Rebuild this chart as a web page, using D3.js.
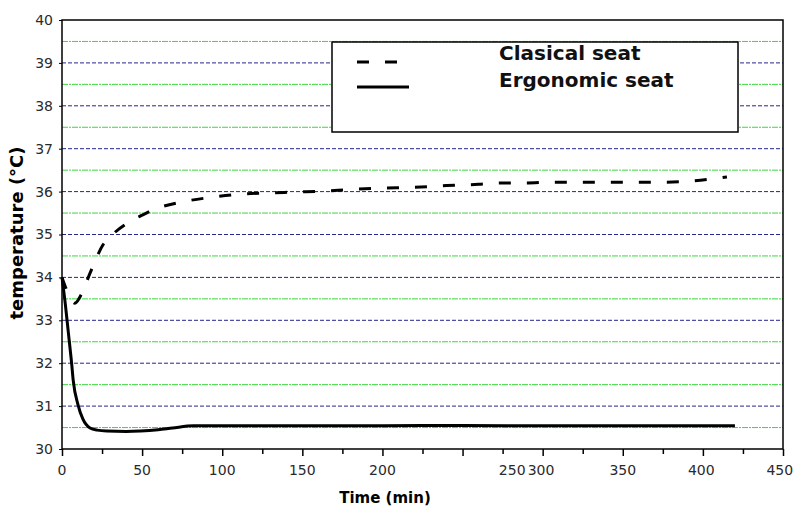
<!DOCTYPE html>
<html>
<head>
<meta charset="utf-8">
<script src="https://cdn.jsdelivr.net/npm/d3@7"></script>
<style>
  body { margin: 0; background: #fff; }
  svg { display: block; font-family: "DejaVu Sans", Verdana, sans-serif; }
</style>
</head>
<body>
<div id="chart"></div>
<script>
// time (min) and temperature (°C)
const classicTime = [0, 3, 8, 12, 17.5, 25.6, 33, 41, 50, 58, 75, 94, 111, 129, 147, 164, 180, 200, 220, 240, 260, 273, 289, 306, 325, 342, 359, 375, 394, 415];
const classicTemp = [34.0, 33.7, 33.4, 33.6, 34.1, 34.76, 35.05, 35.27, 35.45, 35.59, 35.76, 35.87, 35.94, 35.97, 35.99, 36.01, 36.05, 36.08, 36.1, 36.14, 36.17, 36.2, 36.2, 36.22, 36.22, 36.22, 36.22, 36.22, 36.25, 36.34];

const ergoTime = [0, 2, 4, 6, 7, 10, 13, 17.5, 22, 28, 40, 49, 60, 69, 82, 120, 200, 250, 300, 360, 420];
const ergoTemp = [34.0, 33.4, 32.7, 32.0, 31.6, 31.03, 30.7, 30.49, 30.44, 30.42, 30.41, 30.42, 30.45, 30.49, 30.54, 30.54, 30.54, 30.55, 30.54, 30.54, 30.54];

const seriesNames = ["Clasical seat", "Ergonomic seat"];

const yTicks = [30, 31, 32, 33, 34, 35, 36, 37, 38, 39, 40];
const yHalfTicks = [30.5, 31.5, 32.5, 33.5, 34.5, 35.5, 36.5, 37.5, 38.5, 39.5];
const xMinorTicks = d3.range(0, 451, 25);
// the original figure has its "250" label shifted next to "300"
const xLabelText = ["0", "50", "100", "150", "200", "250", "300", "350", "400", "450"];
const xLabelAt = [0, 50, 100, 150, 200, 281, 299, 350, 399, 448];

const margin = ({top: 20, right: 15, bottom: 58, left: 62});
const width = 798;
const height = 507;

const x = d3.scaleLinear().domain([0, 450]).range([margin.left, width - margin.right]);
const y = d3.scaleLinear().domain([30, 40]).range([height - margin.bottom, margin.top]);

const svg = d3.select("#chart").append("svg")
	.attr("width", width)
	.attr("height", height);

// grid lines
svg.append("g").selectAll("line")
	.data(yHalfTicks)
	.join("line")
		.attr("x1", margin.left).attr("x2", width - margin.right)
		.attr("y1", d => y(d)).attr("y2", d => y(d))
		.attr("stroke", "#3cd83c")
		.attr("stroke-width", 1)
		.attr("stroke-dasharray", "6,1,2,1");

svg.append("g").selectAll("line")
	.data(yTicks.slice(1, -1))
	.join("line")
		.attr("x1", margin.left).attr("x2", width - margin.right)
		.attr("y1", d => y(d)).attr("y2", d => y(d))
		.attr("stroke", "#26268c")
		.attr("stroke-width", 1)
		.attr("stroke-dasharray", "4,2");

// data lines
const line = d3.line()
	.x(d => x(d[0]))
	.y(d => y(d[1]))
	.curve(d3.curveMonotoneX);

svg.append("path")
	.datum(d3.zip(ergoTime, ergoTemp))
	.attr("fill", "none")
	.attr("stroke", "#000")
	.attr("stroke-width", 3)
	.attr("d", line);

svg.append("path")
	.datum(d3.zip(classicTime, classicTemp))
	.attr("fill", "none")
	.attr("stroke", "#000")
	.attr("stroke-width", 3)
	.attr("stroke-dasharray", "12,16")
	.attr("d", line);

// frame
svg.append("rect")
	.attr("x", margin.left)
	.attr("y", margin.top)
	.attr("width", width - margin.right - margin.left)
	.attr("height", height - margin.bottom - margin.top)
	.attr("fill", "none")
	.attr("stroke", "#000")
	.attr("stroke-width", 1.5);

// x axis
const xAxis = svg.append("g")
	.attr("transform", `translate(0,${height - margin.bottom})`)
	.call(d3.axisBottom(x).tickValues(xMinorTicks).tickSize(6).tickFormat(""))
	.call(g => g.select(".domain").remove());
xAxis.selectAll(".tick line")
	.attr("stroke-width", 1.5)
	.attr("y2", d => d % 50 === 0 ? 7 : 5);

svg.append("g").selectAll("text")
	.data(xLabelText)
	.join("text")
		.attr("x", (d, i) => x(xLabelAt[i]))
		.attr("y", height - margin.bottom + 26)
		.attr("text-anchor", "middle")
		.attr("font-size", 14)
		.attr("fill", "#2a2a2a")
		.text(d => d);

svg.append("text")
	.attr("x", 385)
	.attr("y", 503)
	.attr("text-anchor", "middle")
	.attr("font-size", 15)
	.attr("font-weight", "bold")
	.text("Time (min)");

// y axis
svg.append("g")
	.attr("transform", `translate(${margin.left},0)`)
	.call(d3.axisLeft(y).tickValues(yTicks).tickSize(3).tickPadding(6).tickFormat(d3.format("d")))
	.call(g => g.select(".domain").remove())
	.call(g => g.selectAll(".tick text")
		.attr("font-size", 14)
		.attr("fill", "#2a2a2a")
		.attr("font-family", "'DejaVu Sans', Verdana, sans-serif"));

svg.append("text")
	.attr("transform", `translate(23,233) rotate(-90)`)
	.attr("text-anchor", "middle")
	.attr("font-size", 18)
	.attr("font-weight", "bold")
	.text("temperature (°C)");

// legend
const legend = svg.append("g");
legend.append("rect")
	.attr("x", 332).attr("y", 42)
	.attr("width", 406).attr("height", 90)
	.attr("fill", "#fff")
	.attr("stroke", "#000")
	.attr("stroke-width", 1.5);

legend.selectAll("line")
	.data(seriesNames)
	.join("line")
		.attr("x1", 357)
		.attr("x2", (d, i) => i === 0 ? 397 : 409)
		.attr("y1", (d, i) => 62 + i * 25)
		.attr("y2", (d, i) => 62 + i * 25)
		.attr("stroke", "#000")
		.attr("stroke-width", 3)
		.attr("stroke-dasharray", (d, i) => i === 0 ? "12,16" : null);

legend.selectAll("text")
	.data(seriesNames)
	.join("text")
		.attr("x", 499)
		.attr("y", (d, i) => 60 + i * 27)
		.attr("font-size", 20)
		.attr("font-weight", "bold")
		.attr("fill", "#111")
		.text(d => d);
</script>
</body>
</html>
